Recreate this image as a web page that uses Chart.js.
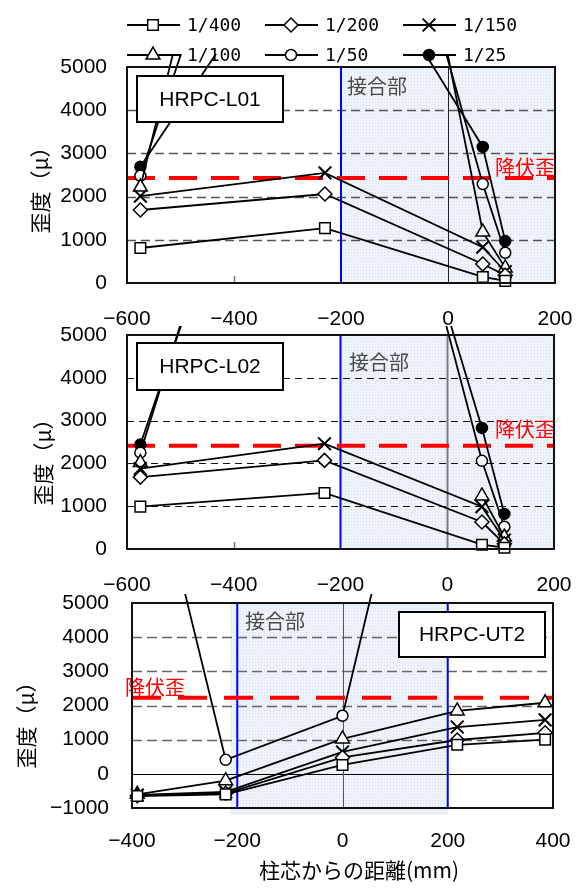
<!DOCTYPE html>
<html>
<head>
<meta charset="utf-8">
<script src="https://cdn.jsdelivr.net/npm/chart.js@4.4.1/dist/chart.umd.min.js"></script>
<style>
  html, body { margin: 0; padding: 0; background: #fff; }
  #wrap { position: relative; width: 582px; height: 888px; overflow: hidden; }
  #wrap canvas { position: absolute; left: 0; }
</style>
</head>
<body>
<div id="wrap">
  <canvas id="c1" width="582" height="345" style="top:0px"></canvas>
  <canvas id="c2" width="582" height="345" style="top:290px"></canvas>
  <canvas id="c3" width="582" height="328" style="top:560px"></canvas>
</div>
<script>
// series (drift angle)
const seriesLabels = ['1/400', '1/200', '1/150', '1/100', '1/50', '1/25'];

// gauge positions (mm)
const posL = [-575, -230, 65, 107];
const posUT = [-390, -222, 0, 218, 385];

// HRPC-L01 strain (μ)
const L01_400 = [810, 1270, 140, 50];
const L01_200 = [1690, 2060, 440, 180];
const L01_150 = [2010, 2550, 830, 260];
const L01_100 = [2220, 19700, 1180, 350];
const L01_50  = [2480, 15300, 2290, 700];
const L01_25  = [2690, 9070, 3150, 970];

// HRPC-L02
const L02_400 = [990, 1310, 100, 30];
const L02_200 = [1680, 2070, 630, 120];
const L02_150 = [1880, 2460, 990, 210];
const L02_100 = [2020, null, 1240, 280];
const L02_50  = [2250, 16000, 2060, 520];
const L02_25  = [2440, 15000, 2830, 820];

// HRPC-UT2
const UT_400 = [-650, -600, 260, 850, 1000];
const UT_200 = [-640, -570, 480, 990, 1200];
const UT_150 = [-620, -530, 640, 1370, 1580];
const UT_100 = [-600, -200, 1020, 1840, 2080];
const UT_50  = [11000, 410, 1700, 15800, null];
const UT_25  = [null, null, null, null, null];

// 降伏歪
const yieldL01 = 2430;
const yieldL02 = 2410;
const yieldUT2 = 2230;

const LATIN = "'Liberation Sans', Arial, sans-serif";
const CJK = "'Noto Sans CJK JP', sans-serif";

const markStyles = [
  { style: 'rect', r: 7.5, fill: '#fff', bw: 1.5 },
  { style: 'rectRot', r: 7, fill: '#fff', bw: 1.5 },
  { style: 'crossRot', r: 9, fill: '#fff', bw: 2 },
  { style: 'triangle', r: 8, fill: '#fff', bw: 1.5 },
  { style: 'circle', r: 5.5, fill: '#fff', bw: 1.5 },
  { style: 'circle', r: 5.5, fill: '#000', bw: 1.5 }
];

const fmt = v => (v < 0 ? '\u2212' + Math.abs(v) : String(v));

function makeSets(pos, rows, clip) {
  return rows.map((vals, i) => ({
    label: seriesLabels[i],
    data: pos.map((p, j) => ({ x: p, y: vals[j] })),
    borderColor: '#000',
    borderWidth: 1.8,
    tension: 0,
    spanGaps: false,
    pointStyle: markStyles[i].style,
    pointRadius: markStyles[i].r,
    pointBackgroundColor: markStyles[i].fill,
    pointBorderColor: '#000',
    pointBorderWidth: markStyles[i].bw,
    clip: clip
  }));
}

// dotted light-blue fill for the joint zone
function shadePattern(ctx) {
  const pc = document.createElement('canvas');
  pc.width = 3; pc.height = 3;
  const p = pc.getContext('2d');
  p.fillStyle = '#eef3fa';
  p.fillRect(0, 0, 3, 3);
  p.fillStyle = '#d4dff0';
  p.fillRect(0, 0, 1, 1);
  return ctx.createPattern(pc, 'repeat');
}

function marker(ctx, st, x, y) {
  ctx.fillStyle = st.fill;
  ctx.strokeStyle = '#000';
  ctx.lineWidth = st.bw;
  Chart.helpers.drawPoint(ctx, { pointStyle: st.style, radius: st.r, rotation: 0, borderWidth: st.bw }, x, y);
}

function drawLegend(ctx) {
  const cols = [127, 265, 403];
  const rowY = [25, 55];
  seriesLabels.forEach((lab, i) => {
    const x0 = cols[i % 3], y0 = rowY[Math.floor(i / 3)];
    ctx.setLineDash([]);
    ctx.strokeStyle = '#000';
    ctx.lineWidth = 1.8;
    ctx.beginPath(); ctx.moveTo(x0, y0); ctx.lineTo(x0 + 53, y0); ctx.stroke();
    marker(ctx, markStyles[i], x0 + 26, y0);
    ctx.fillStyle = '#000';
    ctx.font = "18px 'DejaVu Sans Mono', monospace";
    ctx.textAlign = 'left';
    ctx.textBaseline = 'middle';
    ctx.fillText(lab, x0 + 60, y0 + 1);
  });
}

function text(ctx, s, x, y, font, color, align, rot) {
  ctx.save();
  ctx.translate(x, y);
  if (rot) ctx.rotate(rot);
  ctx.font = font;
  ctx.fillStyle = color;
  ctx.textAlign = align || 'left';
  ctx.textBaseline = 'middle';
  ctx.fillText(s, 0, 0);
  ctx.restore();
}

function makeDeco(c) {
  return {
    id: 'deco',
    beforeDatasetsDraw(chart) {
      const { ctx, chartArea: a, scales: { x, y } } = chart;
      ctx.save();
      // joint zone
      ctx.fillStyle = shadePattern(ctx);
      const sx0 = x.getPixelForValue(c.shade[0]);
      const sx1 = c.shade[1] === null ? a.right : x.getPixelForValue(c.shade[1]);
      ctx.fillRect(sx0, a.top, sx1 - sx0, a.bottom - a.top + (c.shadeDown || 0));
      // dashed grid
      ctx.strokeStyle = c.grid.color;
      ctx.lineWidth = c.grid.width;
      ctx.setLineDash(c.grid.dash);
      [1000, 2000, 3000, 4000].forEach(v => {
        const py = Math.round(y.getPixelForValue(v)) + 0.5;
        ctx.beginPath(); ctx.moveTo(a.left, py); ctx.lineTo(a.right, py); ctx.stroke();
      });
      ctx.setLineDash([]);
      if (c.zeroY) {
        const py = Math.round(y.getPixelForValue(0)) + 0.5;
        ctx.strokeStyle = '#000'; ctx.lineWidth = 1;
        ctx.beginPath(); ctx.moveTo(a.left, py); ctx.lineTo(a.right, py); ctx.stroke();
      }
      // column centre line
      const zx = Math.round(x.getPixelForValue(0)) + 0.5;
      ctx.strokeStyle = c.zeroX.color; ctx.lineWidth = c.zeroX.width;
      ctx.beginPath(); ctx.moveTo(zx, a.top); ctx.lineTo(zx, a.bottom); ctx.stroke();
      // small tick
      if (c.minorTick !== undefined) {
        const tx = Math.round(x.getPixelForValue(c.minorTick)) + 0.5;
        ctx.strokeStyle = '#777'; ctx.lineWidth = 1.5;
        ctx.beginPath(); ctx.moveTo(tx, a.bottom); ctx.lineTo(tx, a.bottom - 7); ctx.stroke();
      }
      // joint boundaries
      ctx.strokeStyle = '#0000ff'; ctx.lineWidth = 2;
      c.blue.forEach(v => {
        const bx = x.getPixelForValue(v);
        ctx.beginPath(); ctx.moveTo(bx, a.top); ctx.lineTo(bx, a.bottom); ctx.stroke();
      });
      // yield strain
      const ry = y.getPixelForValue(c.yieldVal);
      ctx.strokeStyle = '#ff0000'; ctx.lineWidth = 4;
      ctx.setLineDash(c.yieldDash);
      ctx.beginPath(); ctx.moveTo(a.left, ry); ctx.lineTo(a.right, ry); ctx.stroke();
      ctx.setLineDash([]);
      text(ctx, '接合部', c.joint[0], c.joint[1], '20px ' + CJK, '#4a4a4a');
      text(ctx, '降伏歪', c.yieldText[0], c.yieldText[1], '20px ' + CJK, '#ff0000');
      text(ctx, '歪度（μ）', c.yTitle[0], c.yTitle[1], '21px ' + CJK, '#000', 'center', -Math.PI / 2);
      if (c.xTitle) text(ctx, '柱芯からの距離(mm)', c.xTitle[0], c.xTitle[1], '21px ' + CJK, '#000', 'center');
      if (c.legend) drawLegend(ctx);
      ctx.restore();
    },
    afterDatasetsDraw(chart) {
      const { ctx, chartArea: a } = chart;
      ctx.save();
      const b = c.box;
      ctx.fillStyle = '#fff';
      ctx.fillRect(b.x, b.y, b.w, b.h);
      ctx.strokeStyle = '#000'; ctx.lineWidth = 2;
      ctx.strokeRect(b.x, b.y, b.w, b.h);
      text(ctx, b.text, b.x + b.w / 2, b.y + b.h / 2 + 1, '21px ' + LATIN, '#000', 'center');
      ctx.strokeStyle = '#111'; ctx.lineWidth = 2;
      ctx.strokeRect(a.left, a.top, a.right - a.left, a.bottom - a.top);
      ctx.restore();
    }
  };
}

function panel(id, c) {
  const canvas = document.getElementById(id);
  const W = canvas.width, H = canvas.height;
  return new Chart(canvas, {
    type: 'line',
    data: { datasets: makeSets(c.pos, c.rows, c.clip) },
    options: {
      responsive: false,
      animation: false,
      events: [],
      layout: {
        padding: { left: 0, top: c.area.top, right: W - c.area.right, bottom: H - c.area.bottom - c.xh }
      },
      plugins: { legend: { display: false }, tooltip: { enabled: false } },
      scales: {
        x: {
          type: 'linear', position: 'bottom',
          min: c.xr[0], max: c.xr[1],
          ticks: { stepSize: 200, callback: fmt, color: '#000', padding: c.xPad, font: { family: LATIN, size: 21 } },
          grid: { display: false, drawTicks: false },
          border: { display: false },
          afterFit: s => { s.height = c.xh; s.paddingLeft = 0; s.paddingRight = 0; }
        },
        y: {
          type: 'linear', position: 'left',
          min: c.yr[0], max: c.yr[1],
          ticks: { stepSize: 1000, callback: fmt, color: '#000', padding: c.yPad, font: { family: LATIN, size: 21 } },
          grid: { display: false, drawTicks: false },
          border: { display: false },
          afterFit: s => { s.width = c.area.left; s.paddingTop = 0; s.paddingBottom = 0; }
        }
      }
    },
    plugins: [makeDeco(c)]
  });
}

panel('c1', {
  pos: posL, rows: [L01_400, L01_200, L01_150, L01_100, L01_50, L01_25],
  clip: { left: 8, top: 13, right: 8, bottom: 8 },
  area: { left: 127, right: 555, top: 67, bottom: 283 }, xh: 62, xPad: 24, yPad: 20,
  xr: [-600, 200], yr: [0, 5000],
  shade: [-200, null], blue: [-200], minorTick: -400,
  zeroX: { color: '#222', width: 1 },
  grid: { color: '#555', width: 1.3, dash: [9, 5] },
  yieldVal: yieldL01, yieldDash: [28, 14],
  joint: [347, 86], yieldText: [495, 167], yTitle: [40, 185],
  box: { text: 'HRPC-L01', x: 137, y: 76, w: 146, h: 46 },
  legend: true
});

panel('c2', {
  pos: posL, rows: [L02_400, L02_200, L02_150, L02_100, L02_50, L02_25],
  clip: { left: 8, top: 9, right: 8, bottom: 8 },
  area: { left: 127, right: 554, top: 45, bottom: 259 }, xh: 62, xPad: 24, yPad: 20,
  xr: [-600, 200], yr: [0, 5000],
  shade: [-200, null], blue: [-200], minorTick: -400,
  zeroX: { color: '#7a7a7a', width: 2 },
  grid: { color: '#111', width: 1, dash: [7, 5] },
  yieldVal: yieldL02, yieldDash: [28, 14],
  joint: [349, 72], yieldText: [495, 139], yTitle: [43, 167],
  box: { text: 'HRPC-L02', x: 137, y: 53, w: 146, h: 47 }
});

panel('c3', {
  pos: posUT, rows: [UT_400, UT_200, UT_150, UT_100, UT_50, UT_25],
  clip: { left: 8, top: 9, right: 8, bottom: 8 },
  area: { left: 132, right: 553, top: 43, bottom: 248 }, xh: 80, xPad: 21, yPad: 23,
  xr: [-400, 400], yr: [-1000, 5000],
  shade: [-213, 200], shadeDown: 7, blue: [-200, 200], zeroY: true,
  zeroX: { color: '#555', width: 1 },
  grid: { color: '#666', width: 1.5, dash: [10, 5] },
  yieldVal: yieldUT2, yieldDash: [29, 17],
  joint: [245, 61], yieldText: [125, 127], yTitle: [26, 160], xTitle: [359, 310],
  box: { text: 'HRPC-UT2', x: 399, y: 52, w: 146, h: 45 }
});
</script>
</body>
</html>
